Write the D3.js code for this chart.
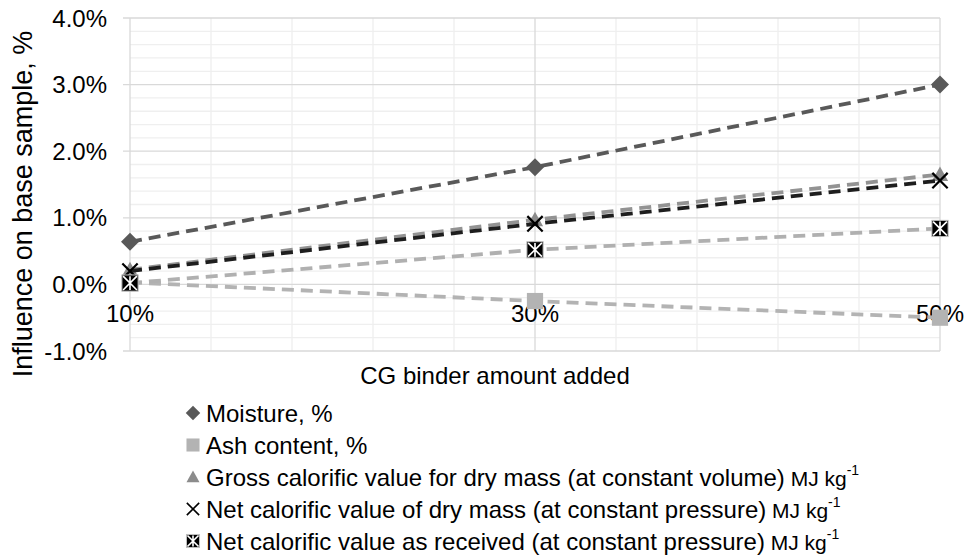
<!DOCTYPE html>
<html>
<head>
<meta charset="utf-8">
<script src="https://cdn.jsdelivr.net/npm/d3@7/dist/d3.min.js"></script>
<style>
  html, body { margin: 0; padding: 0; background: #fff; }
  svg { display: block; }
  text { font-family: "Liberation Sans", Arial, sans-serif; fill: #000; }
</style>
</head>
<body>
<svg id="chart" width="968" height="557"></svg>
<script>
// ---- data ----
const categories = [10, 30, 50];            // CG binder amount added, %
const categoryLabels = ["10%", "30%", "50%"];
const moisture    = [0.64, 1.76, 3.00];
const ash         = [0.03, -0.25, -0.50];
const gross       = [0.22, 0.97, 1.65];
const netDry      = [0.20, 0.91, 1.56];
const netReceived = [0.02, 0.52, 0.84];
const yTicks = [-1, 0, 1, 2, 3, 4];
const yTickLabels = ["-1.0%", "0.0%", "1.0%", "2.0%", "3.0%", "4.0%"];
const seriesNames = [
  "Moisture, %",
  "Ash content, %",
  "Gross calorific value for dry mass (at constant volume)",
  "Net calorific value of dry mass (at constant pressure)",
  "Net calorific value as received (at constant pressure)"
];
const seriesUnits = [null, null, "MJ kg", "MJ kg", "MJ kg"];

const series = [
  { name: seriesNames[0], unit: seriesUnits[0], values: moisture,    line: "#595959", marker: "diamond" },
  { name: seriesNames[1], unit: seriesUnits[1], values: ash,         line: "#b3b3b3", marker: "square" },
  { name: seriesNames[2], unit: seriesUnits[2], values: gross,       line: "#939393", marker: "triangle" },
  { name: seriesNames[3], unit: seriesUnits[3], values: netDry,      line: "#1e1e1e", marker: "x" },
  { name: seriesNames[4], unit: seriesUnits[4], values: netReceived, line: "#b0b0b0", marker: "box" }
];

const svg = d3.select("#chart");
const plot = { left: 130, right: 940, top: 18, bottom: 351 };

const x = d3.scaleLinear().domain([10, 50]).range([plot.left, plot.right]);
const y = d3.scaleLinear().domain([-1, 4]).range([plot.bottom, plot.top]);

// ---- gridlines ----
const g = svg.append("g");
const minorY = d3.range(-1, 4.0001, 0.2).map(v => +v.toFixed(1));
g.selectAll("line.hminor").data(minorY.filter(v => !yTicks.includes(v))).enter()
  .append("line").attr("x1", plot.left).attr("x2", plot.right)
  .attr("y1", d => y(d)).attr("y2", d => y(d))
  .attr("stroke", "#efefef").attr("stroke-width", 1.3);
const minorX = d3.range(10, 50.0001, 4);
g.selectAll("line.vminor").data(minorX.filter(v => ![10, 30, 50].includes(v))).enter()
  .append("line").attr("y1", plot.top).attr("y2", plot.bottom)
  .attr("x1", d => x(d)).attr("x2", d => x(d))
  .attr("stroke", "#efefef").attr("stroke-width", 1.3);
g.selectAll("line.vmajor").data([30, 50]).enter()
  .append("line").attr("y1", plot.top).attr("y2", plot.bottom)
  .attr("x1", d => x(d)).attr("x2", d => x(d))
  .attr("stroke", "#d9d9d9").attr("stroke-width", 1.3);
g.selectAll("line.hmajor").data(yTicks).enter()
  .append("line").attr("x1", plot.left - 7).attr("x2", plot.right)
  .attr("y1", d => y(d)).attr("y2", d => y(d))
  .attr("stroke", "#d9d9d9").attr("stroke-width", 1.3);
// y axis line
g.append("line").attr("x1", plot.left).attr("x2", plot.left)
  .attr("y1", plot.top).attr("y2", plot.bottom)
  .attr("stroke", "#d9d9d9").attr("stroke-width", 1.3);

// ---- y tick labels ----
svg.append("g").selectAll("text").data(yTicks).enter().append("text")
  .attr("x", 107).attr("y", d => y(d)).attr("dy", "0.36em")
  .attr("text-anchor", "end").attr("font-size", 24)
  .text((d, i) => yTickLabels[i]);

// ---- x tick labels (axis crosses at 0) ----
svg.append("g").selectAll("text").data(categories).enter().append("text")
  .attr("x", d => x(d)).attr("y", y(0) + 29)
  .attr("dy", "0.36em")
  .attr("text-anchor", "middle").attr("font-size", 24)
  .text((d, i) => categoryLabels[i]);

// ---- axis titles ----
svg.append("text").attr("x", 495).attr("y", 375).attr("dy", "0.36em")
  .attr("text-anchor", "middle").attr("font-size", 24)
  .text("CG binder amount added");
svg.append("text")
  .attr("transform", "translate(22," + 204 + ") rotate(-90)")
  .attr("dy", "0.36em")
  .attr("text-anchor", "middle").attr("font-size", 27)
  .text("Influence on base sample, %");

// ---- markers ----
function drawMarker(sel, type, cx, cy, s) {
  const h = s / 2;
  if (type === "diamond") {
    sel.append("path").attr("d", `M${cx},${cy - h}L${cx + h},${cy}L${cx},${cy + h}L${cx - h},${cy}Z`)
      .attr("fill", "#595959");
  } else if (type === "square") {
    sel.append("rect").attr("x", cx - h * 0.9).attr("y", cy - h * 0.9)
      .attr("width", s * 0.9).attr("height", s * 0.9).attr("fill", "#b3b3b3");
  } else if (type === "triangle") {
    const hh = h * 0.9;
    sel.append("path").attr("d", `M${cx},${cy - hh}L${cx + hh},${cy + hh * 0.8}L${cx - hh},${cy + hh * 0.8}Z`)
      .attr("fill", "#8c8c8c");
  } else if (type === "x") {
    const q = h * 0.85;
    sel.append("path").attr("d", `M${cx - q},${cy - q}L${cx + q},${cy + q}M${cx + q},${cy - q}L${cx - q},${cy + q}`)
      .attr("stroke", "#000").attr("stroke-width", s > 15 ? 2.2 : 1.6).attr("fill", "none");
  } else if (type === "box") {
    const q = h * 0.9;
    sel.append("rect").attr("x", cx - q).attr("y", cy - q).attr("width", 2 * q).attr("height", 2 * q)
      .attr("fill", "#000").attr("stroke", "#bfbfbf").attr("stroke-width", 1);
    const r = q * 0.85;
    sel.append("path").attr("d", `M${cx - r},${cy - r}L${cx + r},${cy + r}M${cx + r},${cy - r}L${cx - r},${cy + r}M${cx},${cy - r}L${cx},${cy + r}`)
      .attr("stroke", "#fff").attr("stroke-width", 1.6).attr("fill", "none");
  }
}

// ---- lines and markers ----
const lineGen = d3.line().x((d, i) => x(categories[i])).y(d => y(d));
series.forEach(s => {
  const sg = svg.append("g");
  sg.append("path").datum(s.values).attr("d", lineGen)
    .attr("fill", "none").attr("stroke", s.line).attr("stroke-width", 3.8)
    .attr("stroke-dasharray", "12,7");
  s.values.forEach((v, i) => drawMarker(sg, s.marker, x(categories[i]), y(v), 18));
});

// ---- legend ----
const legendY = [413, 445, 477, 509, 541];
const lg = svg.append("g");
series.forEach((s, i) => {
  const cy = legendY[i];
  drawMarker(lg, s.marker, 193, cy, 14.5);
  const t = lg.append("text").attr("x", 206).attr("y", cy).attr("dy", "0.36em")
    .attr("font-size", 24);
  t.append("tspan").text(s.name);
  if (s.unit) {
    t.append("tspan").attr("font-size", 21).text(" " + s.unit);
    t.append("tspan").attr("font-size", 14).attr("dy", "-0.75em").text("-1");
  }
});
</script>
</body>
</html>
